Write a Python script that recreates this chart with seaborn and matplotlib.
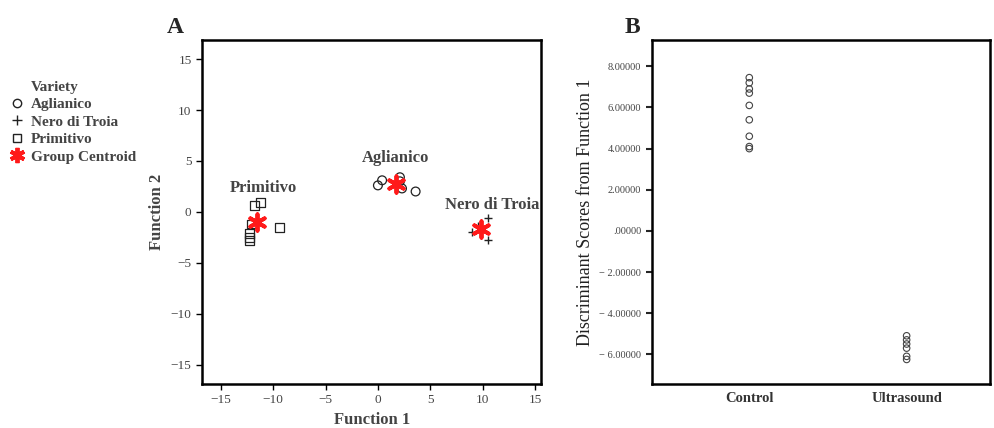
import pandas as pd
import numpy as np
import matplotlib
matplotlib.use('Agg')
import matplotlib.pyplot as plt
from matplotlib.lines import Line2D
from matplotlib.ticker import FuncFormatter
import seaborn as sns

# Panel A: discriminant functions per variety
agl_f1 = [0.4, 0.0, 2.1, 2.1, 2.3, 3.6]
agl_f2 = [3.1, 2.6, 3.4, 3.0, 2.3, 2.0]
nero_f1 = [10.5, 9.0, 9.6, 10.5]
nero_f2 = [-0.6, -2.0, -1.4, -2.8]
prim_f1 = [-11.8, -11.2, -12.1, -12.3, -12.3, -12.3, -9.4]
prim_f2 = [0.6, 0.9, -1.2, -2.1, -2.5, -2.8, -1.5]
varieties = ['Aglianico', 'Nero di Troia', 'Primitivo']
centroid_f1 = [1.7, 9.8, -11.5]
centroid_f2 = [2.7, -1.7, -1.0]

# Panel B: discriminant scores by treatment
control_scores = [7.45, 7.2, 6.9, 6.7, 6.1, 5.4, 4.6, 4.1, 4.0]
ultra_scores = [-5.1, -5.3, -5.5, -5.7, -6.1, -6.25]

sns.set_style('white')
plt.rcParams['font.family'] = ['Liberation Serif', 'DejaVu Serif']

dfA = pd.DataFrame({
    'Function 1': agl_f1 + nero_f1 + prim_f1,
    'Function 2': agl_f2 + nero_f2 + prim_f2,
    'Variety': ['Aglianico'] * len(agl_f1) + ['Nero di Troia'] * len(nero_f1) + ['Primitivo'] * len(prim_f1),
})
dfC = pd.DataFrame({'Function 1': centroid_f1, 'Function 2': centroid_f2, 'Variety': varieties})
dfB = pd.DataFrame({
    'Group': ['Control'] * len(control_scores) + ['Ultrasound'] * len(ultra_scores),
    'Score': control_scores + ultra_scores,
})

fig = plt.figure(figsize=(9.95, 4.28), dpi=100)
axA = fig.add_axes([0.203, 0.103, 0.341, 0.804])
axB = fig.add_axes([0.655, 0.103, 0.340, 0.804])

# --- panel A
mk = {'Aglianico': 'o', 'Nero di Troia': '+', 'Primitivo': 's'}
for v in varieties:
    sub = dfA[dfA['Variety'] == v]
    if mk[v] == '+':
        sns.scatterplot(data=sub, x='Function 1', y='Function 2', marker='+', color='#222222',
                        s=40, linewidth=1.0, ax=axA)
    else:
        sns.scatterplot(data=sub, x='Function 1', y='Function 2', marker=mk[v], facecolors='none',
                        edgecolor='#222222', s=40, linewidth=0.9, ax=axA)
sns.scatterplot(data=dfC, x='Function 1', y='Function 2', marker=(6, 2, 0), color='#ff1a1a',
                s=140, linewidth=2.8, ax=axA, zorder=5)

lab_pos = {'Aglianico': (1.7, 5.3), 'Primitivo': (-10.9, 2.3), 'Nero di Troia': (10.9, 0.7)}
for v, (x, y) in lab_pos.items():
    axA.text(x, y, v, ha='center', va='center', fontsize=12, fontweight='bold', color='#444444')

axA.set_xlim(-16.8, 15.6)
axA.set_ylim(-16.9, 16.9)
axA.set_xticks(range(-15, 16, 5))
axA.set_yticks(range(-15, 16, 5))
axA.set_xlabel('Function 1', fontsize=12, fontweight='bold', color='#444444')
axA.set_ylabel('Function 2', fontsize=12, fontweight='bold', color='#444444')
axA.tick_params(direction='out', length=4, width=1, labelsize=9.5, labelcolor='#444444',
                color='black', left=True, bottom=True)

# --- panel B
sns.scatterplot(data=dfB, x='Group', y='Score', marker='o', facecolors='none',
                edgecolor='#444444', s=22, linewidth=0.8, ax=axB)
axB.set_xlim(-0.62, 1.53)
axB.set_ylim(-7.44, 9.29)
axB.set_yticks(np.arange(-6, 9, 2))


def fmt(v, pos):
    if abs(v) < 1e-9:
        return '.00000'
    if v < 0:
        return '\u2212 %.5f' % abs(v)
    return '%.5f' % v


axB.yaxis.set_major_formatter(FuncFormatter(fmt))
axB.set_xlabel('')
axB.set_ylabel('Discriminant Scores from Function 1', fontsize=13, color='#222222')
axB.tick_params(axis='y', direction='out', length=4, width=1.5, labelsize=7.5, labelcolor='#444444',
                left=True)
axB.tick_params(axis='x', length=0, labelsize=10.5, labelcolor='#333333', pad=6)
for t in axB.get_xticklabels():
    t.set_fontweight('bold')

for ax in (axA, axB):
    for s in ax.spines.values():
        s.set_linewidth(1.8)
        s.set_color('black')

fig.text(0.176, 0.935, 'A', fontsize=17, fontweight='bold', ha='center', va='center')
fig.text(0.636, 0.935, 'B', fontsize=17, fontweight='bold', ha='center', va='center')

# legend with the title placed like an entry
handles = [
    Line2D([], [], linestyle='none', marker=None),
    Line2D([], [], linestyle='none', marker='o', markerfacecolor='none', markeredgecolor='#222222', markersize=6),
    Line2D([], [], linestyle='none', marker='+', color='#222222', markersize=7),
    Line2D([], [], linestyle='none', marker='s', markerfacecolor='none', markeredgecolor='#222222', markersize=6),
    Line2D([], [], linestyle='none', marker=(6, 2, 0), color='#ff1a1a', markersize=11, markeredgewidth=2.8),
]
labels = ['Variety', 'Aglianico', 'Nero di Troia', 'Primitivo', 'Group Centroid']
leg = fig.legend(handles, labels, loc='upper left', bbox_to_anchor=(-0.004, 0.845), frameon=False,
                 handlelength=1.0, handletextpad=0.4, labelspacing=0.25,
                 prop={'size': 11, 'weight': 'bold'})
for t in leg.get_texts():
    t.set_color('#444444')

fig.savefig('out.png', dpi=100)
